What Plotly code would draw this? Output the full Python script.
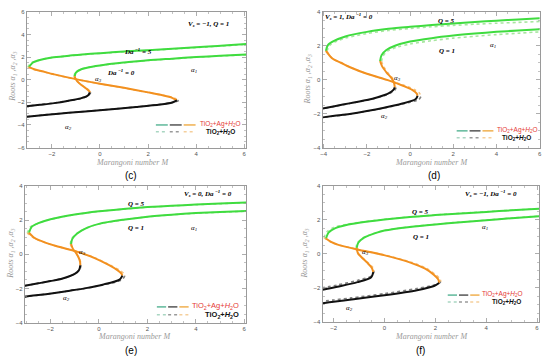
import plotly.graph_objects as go

# ------------------------------------------------------------------
# Data: (Marangoni number M, root alpha) points
# UP = alpha1 branch (green), MID = alpha3 branch (orange), LOW = alpha2 branch (black)
# *_H = TiO2+H2O (dotted) counterpart
# ------------------------------------------------------------------
# panel (c): Vs=-1, Q=1 ; Da^-1 = 5 and Da^-1 = 0
C_DA5_UP = [(-2.95, 1.12), (-2.8, 1.5), (-2.5, 1.75), (-2.0, 1.97), (-1.3, 2.12), (-0.5, 2.28), (0.5, 2.42),
            (1.5, 2.55), (2.5, 2.67), (3.5, 2.8), (4.5, 2.93), (5.3, 3.04), (6.08, 3.15)]
C_DA5_MID = [(-2.95, 1.12), (-2.7, 0.9), (-2.4, 0.74), (-1.9, 0.47), (-1.0, 0.05), (0.0, -0.35), (1.0, -0.72),
             (2.0, -1.12), (2.6, -1.38), (3.0, -1.6), (3.2, -1.83)]
C_DA5_LOW = [(3.2, -1.83), (3.0, -2.02), (2.5, -2.2), (1.5, -2.42), (0.0, -2.7), (-1.3, -2.93), (-2.2, -3.1),
             (-3.04, -3.28)]
C_DA0_UP = [(-1.05, 0.3), (-1.0, 0.62), (-0.8, 0.9), (-0.45, 1.1), (0.2, 1.33), (1.0, 1.52), (2.0, 1.72),
            (3.0, 1.86), (4.0, 2.0), (5.0, 2.12), (6.08, 2.23)]
C_DA0_MID = [(-1.05, 0.3), (-1.02, 0.1), (-0.95, -0.12), (-0.8, -0.42), (-0.62, -0.7), (-0.5, -0.9),
             (-0.43, -1.05), (-0.42, -1.13)]
C_DA0_LOW = [(-0.42, -1.13), (-0.5, -1.4), (-0.8, -1.65), (-1.3, -1.86), (-1.9, -2.07), (-2.5, -2.22),
             (-3.04, -2.35)]
C_DA5_UP_H = [(-3.0, 1.12), (-2.85, 1.5), (-2.5, 1.74), (-2.0, 1.95), (-1.3, 2.1), (-0.5, 2.26), (0.5, 2.4),
              (1.5, 2.53), (2.5, 2.65), (3.5, 2.78), (4.5, 2.9), (5.3, 3.01), (6.08, 3.12)]
C_DA5_MID_H = [(-3.0, 1.12), (-2.75, 0.9), (-2.4, 0.73), (-1.9, 0.46), (-1.0, 0.04), (0.0, -0.36), (1.0, -0.73),
               (2.0, -1.13), (2.65, -1.39), (3.08, -1.62), (3.28, -1.84)]
C_DA5_LOW_H = [(3.28, -1.84), (3.05, -2.02), (2.5, -2.19), (1.5, -2.41), (0.0, -2.69), (-1.3, -2.92),
               (-2.2, -3.09), (-3.04, -3.27)]
C_DA0_UP_H = [(-1.08, 0.3), (-1.03, 0.62), (-0.83, 0.9), (-0.45, 1.09), (0.2, 1.31), (1.0, 1.5), (2.0, 1.7),
              (3.0, 1.84), (4.0, 1.98), (5.0, 2.1), (6.08, 2.2)]
C_DA0_MID_H = [(-1.08, 0.3), (-1.04, 0.1), (-0.96, -0.12), (-0.8, -0.42), (-0.6, -0.7), (-0.47, -0.9),
               (-0.4, -1.05), (-0.38, -1.13)]
C_DA0_LOW_H = [(-0.38, -1.13), (-0.47, -1.4), (-0.78, -1.65), (-1.3, -1.85), (-1.9, -2.06), (-2.5, -2.21),
               (-3.04, -2.34)]

# panel (d): Vs=1, Da^-1=0 ; Q = 5 and Q = 1
D_Q5_UP = [(-3.9, 1.7), (-3.8, 2.05), (-3.5, 2.3), (-3.0, 2.55), (-2.0, 2.82), (-1.0, 3.0), (0.0, 3.12),
           (1.0, 3.22), (2.0, 3.32), (3.0, 3.4), (4.0, 3.48), (5.0, 3.55), (6.0, 3.62)]
D_Q5_MID = [(-3.9, 1.7), (-3.6, 1.25), (-3.2, 1.0), (-2.75, 0.72), (-2.0, 0.35), (-1.0, -0.04), (-0.3, -0.37),
            (0.1, -0.6), (0.3, -0.8), (0.35, -0.95)]
D_Q5_LOW = [(0.35, -0.95), (0.25, -1.15), (-0.4, -1.42), (-1.2, -1.65), (-2.0, -1.85), (-2.8, -2.02),
            (-3.5, -2.13), (-4.05, -2.22)]
D_Q1_UP = [(-1.39, 1.1), (-1.32, 1.45), (-1.1, 1.75), (-0.7, 2.0), (0.0, 2.25), (1.0, 2.45), (2.0, 2.6),
           (3.0, 2.72), (4.0, 2.82), (5.0, 2.9), (6.0, 2.98)]
D_Q1_MID = [(-1.39, 1.1), (-1.3, 0.8), (-1.08, 0.41), (-0.85, 0.08), (-0.74, -0.2), (-0.71, -0.45)]
D_Q1_LOW = [(-0.71, -0.45), (-0.76, -0.58), (-1.0, -0.8), (-1.5, -1.03), (-2.0, -1.2), (-2.75, -1.38),
            (-3.5, -1.56), (-4.05, -1.7)]
D_Q5_UP_H = [(-3.85, 1.68), (-3.7, 2.05), (-3.4, 2.27), (-3.0, 2.45), (-2.0, 2.72), (-1.0, 2.9), (0.0, 3.02),
             (1.0, 3.12), (2.0, 3.2), (3.0, 3.27), (4.0, 3.33), (5.0, 3.38), (6.0, 3.43)]
D_Q5_MID_H = [(-3.85, 1.68), (-3.6, 1.25), (-3.2, 1.0), (-2.75, 0.72), (-2.0, 0.35), (-1.0, -0.04),
              (-0.2, -0.37), (0.25, -0.62), (0.45, -0.82), (0.5, -1.0)]
D_Q5_LOW_H = [(0.5, -1.0), (0.4, -1.17), (-0.4, -1.44), (-1.2, -1.67), (-2.0, -1.86), (-2.8, -2.03),
              (-3.5, -2.14), (-4.05, -2.23)]
D_Q1_UP_H = [(-1.32, 1.08), (-1.25, 1.4), (-1.05, 1.68), (-0.6, 1.92), (0.0, 2.1), (1.0, 2.3), (2.0, 2.45),
             (3.0, 2.56), (4.0, 2.66), (5.0, 2.74), (6.0, 2.82)]
D_Q1_MID_H = [(-1.32, 1.08), (-1.23, 0.78), (-1.02, 0.4), (-0.8, 0.07), (-0.68, -0.22), (-0.65, -0.47)]
D_Q1_LOW_H = [(-0.65, -0.47), (-0.7, -0.6), (-0.95, -0.82), (-1.5, -1.05), (-2.0, -1.21), (-2.75, -1.39),
              (-3.5, -1.57), (-4.05, -1.71)]

# panel (e): Vs=0, Da^-1=0 ; Q = 5 and Q = 1
E_Q5_UP = [(-2.89, 1.26), (-2.78, 1.6), (-2.5, 1.82), (-2.0, 2.05), (-1.0, 2.33), (0.0, 2.52), (1.0, 2.65),
           (2.0, 2.76), (3.0, 2.84), (4.0, 2.91), (5.0, 2.97), (6.08, 3.03)]
E_Q5_MID = [(-2.89, 1.26), (-2.7, 1.0), (-2.45, 0.81), (-1.77, 0.48), (-0.88, 0.14), (-0.13, -0.25),
            (0.42, -0.64), (0.76, -0.93), (0.92, -1.12), (0.97, -1.25)]
E_Q5_LOW = [(0.97, -1.25), (0.85, -1.48), (0.15, -1.78), (-0.54, -1.98), (-1.2, -2.13), (-1.9, -2.28),
            (-2.5, -2.39), (-3.06, -2.48)]
E_Q1_UP = [(-1.15, 0.6), (-1.1, 0.9), (-0.9, 1.22), (-0.5, 1.55), (0.0, 1.78), (1.0, 2.02), (2.0, 2.2),
           (3.0, 2.32), (4.0, 2.41), (5.0, 2.47), (6.08, 2.53)]
E_Q1_MID = [(-1.15, 0.6), (-1.08, 0.33), (-0.95, 0.08), (-0.84, -0.19), (-0.78, -0.44), (-0.77, -0.65)]
E_Q1_LOW = [(-0.77, -0.65), (-0.82, -0.92), (-1.0, -1.15), (-1.5, -1.42), (-2.0, -1.57), (-2.5, -1.7),
            (-3.06, -1.84)]
E_Q5_UP_H = [(-2.96, 1.25), (-2.83, 1.6), (-2.52, 1.81), (-2.0, 2.04), (-1.0, 2.32), (0.0, 2.51), (1.0, 2.64),
             (2.0, 2.75), (3.0, 2.83), (4.0, 2.9), (5.0, 2.96), (6.08, 3.02)]
E_Q5_MID_H = [(-2.96, 1.25), (-2.75, 1.0), (-2.47, 0.81), (-1.77, 0.48), (-0.86, 0.14), (-0.1, -0.25),
              (0.47, -0.64), (0.84, -0.93), (1.02, -1.12), (1.07, -1.27)]
E_Q5_LOW_H = [(1.07, -1.27), (0.93, -1.5), (0.2, -1.79), (-0.52, -1.98), (-1.2, -2.13), (-1.9, -2.28),
              (-2.5, -2.39), (-3.06, -2.48)]
E_Q1_UP_H = [(-1.18, 0.6), (-1.13, 0.9), (-0.92, 1.21), (-0.5, 1.54), (0.0, 1.77), (1.0, 2.01), (2.0, 2.19),
             (3.0, 2.31), (4.0, 2.4), (5.0, 2.46), (6.08, 2.52)]
E_Q1_MID_H = [(-1.18, 0.6), (-1.1, 0.33), (-0.96, 0.08), (-0.83, -0.19), (-0.76, -0.44), (-0.74, -0.65)]
E_Q1_LOW_H = [(-0.74, -0.65), (-0.8, -0.92), (-1.0, -1.15), (-1.5, -1.42), (-2.0, -1.57), (-2.5, -1.7),
              (-3.06, -1.84)]

# panel (f): Vs=-1, Da^-1=0 ; Q = 5 and Q = 1
F_Q5_UP = [(-2.3, 0.9), (-2.2, 1.25), (-1.95, 1.5), (-1.5, 1.7), (-1.0, 1.83), (0.0, 2.02), (1.0, 2.17),
           (2.0, 2.28), (3.0, 2.38), (4.0, 2.47), (5.0, 2.56), (6.08, 2.65)]
F_Q5_MID = [(-2.3, 0.9), (-2.1, 0.7), (-1.84, 0.54), (-1.06, 0.25), (-0.02, -0.08), (1.02, -0.52),
            (1.6, -0.88), (1.95, -1.25), (2.12, -1.52), (2.15, -1.72)]
F_Q5_LOW = [(2.15, -1.72), (1.95, -1.9), (1.28, -2.15), (0.0, -2.45), (-1.3, -2.7), (-2.0, -2.83),
            (-2.43, -2.92)]
F_Q1_UP = [(-1.09, 0.35), (-1.03, 0.65), (-0.8, 0.95), (-0.3, 1.25), (0.0, 1.37), (1.0, 1.58), (2.0, 1.73),
           (3.0, 1.86), (4.0, 1.98), (5.0, 2.1), (6.08, 2.21)]
F_Q1_MID = [(-1.09, 0.35), (-1.05, 0.06), (-0.93, -0.16), (-0.68, -0.52), (-0.5, -0.82), (-0.44, -1.08)]
F_Q1_LOW = [(-0.44, -1.08), (-0.52, -1.38), (-1.06, -1.67), (-1.85, -1.94), (-2.43, -2.12)]
F_Q5_UP_H = [(-2.38, 0.95), (-2.26, 1.3), (-2.0, 1.55), (-1.5, 1.73), (-1.0, 1.85), (0.0, 2.03), (1.0, 2.18),
             (2.0, 2.29), (3.0, 2.39), (4.0, 2.48), (5.0, 2.57), (6.08, 2.66)]
F_Q5_MID_H = [(-2.38, 0.95), (-2.15, 0.72), (-1.86, 0.55), (-1.06, 0.26), (0.0, -0.07), (1.05, -0.5),
              (1.65, -0.86), (2.0, -1.22), (2.18, -1.48), (2.22, -1.66)]
F_Q5_LOW_H = [(2.22, -1.66), (2.0, -1.82), (1.28, -2.05), (0.0, -2.35), (-1.3, -2.6), (-2.0, -2.72),
              (-2.43, -2.8)]
F_Q1_UP_H = [(-1.12, 0.36), (-1.06, 0.66), (-0.82, 0.96), (-0.3, 1.26), (0.0, 1.38), (1.0, 1.59), (2.0, 1.74),
             (3.0, 1.87), (4.0, 1.99), (5.0, 2.11), (6.08, 2.22)]
F_Q1_MID_H = [(-1.12, 0.36), (-1.07, 0.06), (-0.93, -0.16), (-0.66, -0.5), (-0.47, -0.78), (-0.4, -1.03)]
F_Q1_LOW_H = [(-0.4, -1.03), (-0.5, -1.3), (-1.06, -1.57), (-1.85, -1.84), (-2.43, -2.0)]

# ------------------------------------------------------------------
W, H = 550, 363
GREEN, ORANGE, BLACK = "#3fdc3f", "#f2901f", "#111111"
GREEN_D, ORANGE_D, BLACK_D = "#a8e6a0", "#f6c27e", "#808080"


def px(x, y):
    return x / W, 1 - y / H


# pixel frames of the four panels: (left, right, top, bottom), x range, y range
PANELS = [
    ("", (25, 246, 9, 147), [-3.04, 6.08], [-6, 6]),
    ("2", (323, 542, 9, 147), [-4.05, 6.02], [-4, 4]),
    ("3", (23, 246, 186, 325), [-3.06, 6.08], [-4, 4]),
    ("4", (323, 541, 186, 324), [-2.43, 6.08], [-4, 4]),
]

SERIES = [
    ("", [(C_DA5_UP_H, C_DA5_MID_H, C_DA5_LOW_H), (C_DA0_UP_H, C_DA0_MID_H, C_DA0_LOW_H)],
     [(C_DA5_UP, C_DA5_MID, C_DA5_LOW), (C_DA0_UP, C_DA0_MID, C_DA0_LOW)]),
    ("2", [(D_Q5_UP_H, D_Q5_MID_H, D_Q5_LOW_H), (D_Q1_UP_H, D_Q1_MID_H, D_Q1_LOW_H)],
     [(D_Q5_UP, D_Q5_MID, D_Q5_LOW), (D_Q1_UP, D_Q1_MID, D_Q1_LOW)]),
    ("3", [(E_Q5_UP_H, E_Q5_MID_H, E_Q5_LOW_H), (E_Q1_UP_H, E_Q1_MID_H, E_Q1_LOW_H)],
     [(E_Q5_UP, E_Q5_MID, E_Q5_LOW), (E_Q1_UP, E_Q1_MID, E_Q1_LOW)]),
    ("4", [(F_Q5_UP_H, F_Q5_MID_H, F_Q5_LOW_H), (F_Q1_UP_H, F_Q1_MID_H, F_Q1_LOW_H)],
     [(F_Q5_UP, F_Q5_MID, F_Q5_LOW), (F_Q1_UP, F_Q1_MID, F_Q1_LOW)]),
]

fig = go.Figure()


def add_branch(pts, color, width, dash, ax):
    fig.add_trace(go.Scatter(
        x=[p[0] for p in pts], y=[p[1] for p in pts], mode="lines",
        line=dict(color=color, width=width, dash=dash, shape="spline", smoothing=0.8),
        xaxis="x" + ax, yaxis="y" + ax, showlegend=False, hoverinfo="skip"))


for ax, dotted, solid in SERIES:
    for up, mid, low in dotted:
        add_branch(up, GREEN_D, 1.6, "dot", ax)
        add_branch(mid, ORANGE_D, 1.6, "dot", ax)
        add_branch(low, BLACK_D, 1.6, "dot", ax)
    for up, mid, low in solid:
        add_branch(up, GREEN, 2.0, "solid", ax)
        add_branch(mid, ORANGE, 2.0, "solid", ax)
        add_branch(low, BLACK, 2.0, "solid", ax)

FRAME = "#9a9a9a"
layout = dict(width=W, height=H, margin=dict(l=0, r=0, t=0, b=0),
              paper_bgcolor="white", plot_bgcolor="white", showlegend=False)


def axis_common(rng, anchor, domain):
    return dict(range=rng, domain=domain, anchor=anchor, showline=True, linecolor=FRAME, linewidth=1,
                mirror="ticks", ticks="inside", ticklen=4, tickwidth=0.8, tickcolor=FRAME,
                minor=dict(ticks="inside", ticklen=2, dtick=0.5, tickcolor=FRAME, tickwidth=0.6),
                showgrid=False, zeroline=False, dtick=2, tick0=0, fixedrange=True,
                tickfont=dict(size=6, color="#555555", family="Liberation Sans"))


for ax, (l, r, t, b), xr, yr in PANELS:
    layout["xaxis" + ax] = axis_common(xr, "y" + ax, [l / W, r / W])
    layout["yaxis" + ax] = axis_common(yr, "x" + ax, [1 - b / H, 1 - t / H])

SERIF = "Liberation Serif"
SANS = "Liberation Sans"
annotations = []
shapes = []


def text(x, y, s, size=7, color="black", angle=0, xanchor="center", family=SERIF):
    xx, yy = px(x, y)
    annotations.append(dict(x=xx, y=yy, xref="paper", yref="paper", text=s, showarrow=False,
                            font=dict(size=size, color=color, family=family), textangle=angle,
                            xanchor=xanchor, yanchor="middle", borderpad=0))


def legend(x0, x1, y_solid, y_dot, xl_solid, xl_dot, size=6.5):
    seg = (x1 - x0) / 3
    cols = [("#5fb89a", "#a9d6c2"), ("#555555", "#9a9a9a"), ("#f0b050", "#f5cf9c")]
    for i, (cs, cd) in enumerate(cols):
        a, bb = x0 + i * seg, x0 + (i + 1) * seg - 2
        for yv, c, d in ((y_solid, cs, "solid"), (y_dot, cd, "dot")):
            xa, ya = px(a, yv)
            xb, _ = px(bb, yv)
            shapes.append(dict(type="line", xref="paper", yref="paper", x0=xa, x1=xb, y0=ya, y1=ya,
                               line=dict(color=c, width=1.5, dash=d)))
    text(xl_solid, y_solid - 1, "TiO<sub>2</sub>+Ag+<i>H</i><sub>2</sub>O", size=size, color="#e53935",
         xanchor="left", family=SANS)
    text(xl_dot, y_dot + 0.5, "<b>TiO<sub>2</sub>+<i>H</i><sub>2</sub>O</b>", size=size, color="#111111",
         xanchor="left", family=SANS)


YT = "<i>Roots α<sub>1</sub> ,α<sub>2</sub> ,α<sub>3</sub></i>"
XT = "<i>Marangoni number M</i>"
GRAY = "#9a9a9a"

# panel (c)
text(208, 21, "<b><i>V<sub>s</sub> = −1, Q = 1</i></b>", 7)
text(137, 49, "<b><i>Da<sup> −1</sup> = 5</i></b>", 7)
text(120, 71, "<b><i>Da<sup> −1</sup> = 0</i></b>", 7)
text(193, 68, "<i>α<sub>1</sub></i>", 7)
text(97, 77, "<i>α<sub>3</sub></i>", 7)
text(67, 126, "<i>α<sub>2</sub></i>", 7)
legend(155, 197, 124, 131, 198, 204)
text(131, 162, XT, 8, GRAY)
text(11, 75, YT, 8, GRAY, angle=-90)
text(130, 175, "(c)", 10, "black", family=SANS)

# panel (d)
text(350, 14, "<b><i>V<sub>s</sub> = 1, Da<sup> −1</sup> = 0</i></b>", 7)
text(448, 18, "<b><i>Q = 5</i></b>", 7)
text(448, 49, "<b><i>Q = 1</i></b>", 7)
text(495, 43, "<i>α<sub>1</sub></i>", 7)
text(398, 76, "<i>α<sub>3</sub></i>", 7)
text(385, 115, "<i>α<sub>2</sub></i>", 7)
legend(458, 497, 130, 137, 498, 503)
text(433, 162, XT, 8, GRAY)
text(308, 78, YT, 8, GRAY, angle=-90)
text(435, 175, "(d)", 10, "black", family=SANS)

# panel (e)
text(208, 194, "<b><i>V<sub>s</sub> = 0, Da<sup> −1</sup> = 0</i></b>", 7)
text(135, 204, "<b><i>Q = 5</i></b>", 7)
text(135, 229, "<b><i>Q = 1</i></b>", 7)
text(193, 229, "<i>α<sub>1</sub></i>", 7)
text(81, 253, "<i>α<sub>3</sub></i>", 7)
text(65, 300, "<i>α<sub>2</sub></i>", 7)
legend(156, 190, 309, 317, 190, 203, size=7.5)
text(133, 339, XT, 8, GRAY)
text(9, 255, YT, 8, GRAY, angle=-90)
text(130, 353, "(e)", 10, "black", family=SANS)

# panel (f)
text(493, 194, "<b><i>V<sub>s</sub> = −1, Da<sup> −1</sup> = 0</i></b>", 7)
text(422, 213, "<b><i>Q = 5</i></b>", 7)
text(422, 238, "<b><i>Q = 1</i></b>", 7)
text(487, 228, "<i>α<sub>1</sub></i>", 7)
text(366, 253, "<i>α<sub>3</sub></i>", 7)
text(350, 310, "<i>α<sub>2</sub></i>", 7)
legend(449, 483, 297, 304, 483, 493)
text(433, 339, XT, 8, GRAY)
text(305, 255, YT, 8, GRAY, angle=-90)
text(422, 353, "(f)", 10, "black", family=SANS)

layout["annotations"] = annotations
layout["shapes"] = shapes
fig.update_layout(**layout)
fig.write_html("out.html", config={"displayModeBar": False, "staticPlot": True},
               post_script="document.body.style.margin='0';document.body.style.padding='0';")
